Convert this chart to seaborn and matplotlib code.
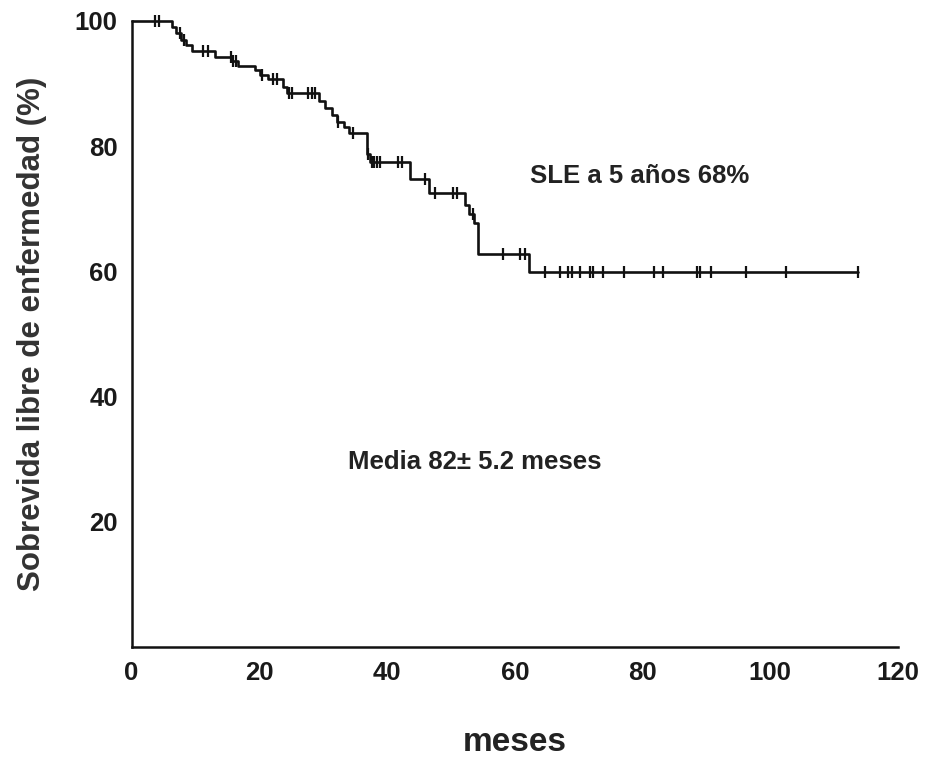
import numpy as np
import pandas as pd
import matplotlib
matplotlib.use("Agg")
import matplotlib.pyplot as plt
import seaborn as sns

# Kaplan-Meier estimate: event times (months) and survival (%) after each drop
step_times = [0, 6.4, 7.0, 7.8, 8.6, 9.5, 13.0, 15.6, 16.6, 19.3, 20.1, 21.4,
              23.7, 24.3, 29.4, 30.3, 31.4, 32.2, 33.3, 34.0, 36.8, 37.3,
              43.6, 46.5, 52.2, 52.9, 53.6, 54.2, 62.2]
survival = [100, 99.0, 98.0, 97.0, 96.1, 95.2, 94.3, 93.6, 92.8, 92.1, 91.4, 90.7,
            89.5, 88.5, 87.2, 86.1, 85.0, 83.9, 83.0, 82.1, 78.8, 77.4,
            74.8, 72.6, 70.6, 69.2, 67.8, 62.8, 59.9]

# censored follow-up times (months)
censor_times = [3.7, 4.3, 7.6, 8.2, 11.2, 12.0, 15.5, 15.9, 16.3, 20.5, 22.1, 22.7,
                24.6, 25.1, 27.6, 28.2, 28.7, 32.3, 34.7, 37.0, 37.6, 38.0, 38.4,
                38.9, 41.7, 42.4, 46.0, 47.5, 50.3, 50.9, 53.5, 58.1, 60.8, 61.6,
                64.7, 67.1, 68.4, 68.9, 70.2, 71.8, 72.3, 73.8, 77.1, 81.8, 83.2,
                88.6, 89.0, 90.8, 96.2, 102.4, 113.7]

x_ticks = [0, 20, 40, 60, 80, 100, 120]
y_ticks = [0, 20, 40, 60, 80, 100]
y_ticklabels = ["", "20", "40", "60", "80", "100"]

note_5y = "SLE a 5 años 68%"
note_mean = "Media 82± 5.2 meses"

# curve runs to the last follow-up time
line_df = pd.DataFrame({
    "t": step_times + [max(censor_times)],
    "s": survival + [survival[-1]],
})
idx = np.searchsorted(step_times, censor_times, side="right") - 1
cens_df = pd.DataFrame({"t": censor_times, "s": np.asarray(survival)[idx]})

sns.set_style("white")
plt.rcParams["font.family"] = ["Liberation Sans", "DejaVu Sans"]

fig = plt.figure(figsize=(9.29, 7.60), dpi=100)
ax = fig.add_axes([0.1416, 0.1487, 0.8250, 0.8237])

sns.lineplot(data=line_df, x="t", y="s", drawstyle="steps-post", color="#111111",
             linewidth=1.9, ax=ax, clip_on=False)
sns.scatterplot(data=cens_df, x="t", y="s", marker="|", s=80, color="#111111",
                linewidths=1.6, ax=ax, clip_on=False, zorder=3)

ax.set_xlim(0, 120)
ax.set_ylim(0, 100)
ax.set_xticks(x_ticks)
ax.set_yticks(y_ticks)
ax.set_yticklabels(y_ticklabels)
ax.tick_params(axis="both", direction="out", length=5, width=1.5, color="#111111",
               labelsize=18.5, pad=5, labelcolor="#1a1a1a")
for lab in ax.get_xticklabels() + ax.get_yticklabels():
    lab.set_fontweight("bold")

for side in ("top", "right"):
    ax.spines[side].set_visible(False)
for side in ("left", "bottom"):
    ax.spines[side].set_linewidth(1.8)
    ax.spines[side].set_color("#111111")

ax.set_xlabel("meses", fontsize=24, fontweight="bold", color="#222222", labelpad=30)
ax.set_ylabel("Sobrevida libre de enfermedad (%)", fontsize=22.5, fontweight="bold",
              color="#333333", labelpad=20)

ax.text(62.4, 75.3, note_5y, fontsize=18.5, fontweight="bold", color="#222222",
        ha="left", va="center")
ax.text(33.9, 29.5, note_mean, fontsize=18.5, fontweight="bold", color="#222222",
        ha="left", va="center")

fig.savefig("out.png", dpi=100, facecolor="white")
